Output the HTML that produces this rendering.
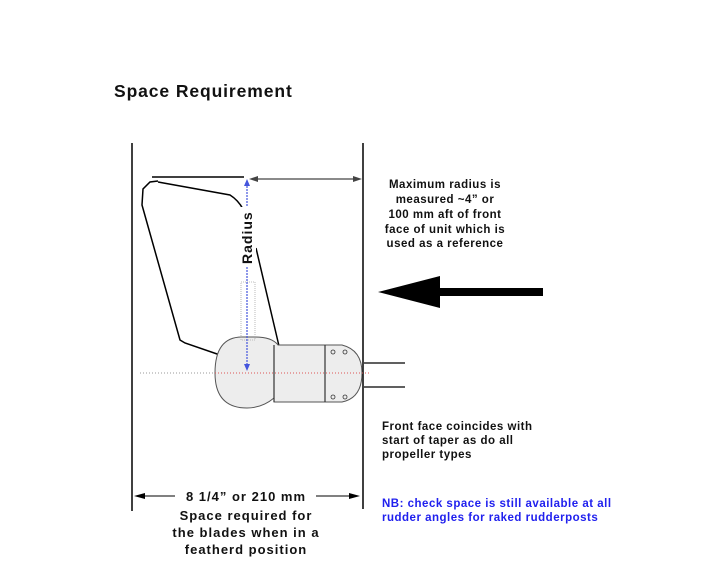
<!DOCTYPE html>
<html><head><meta charset="utf-8"><style>
body{margin:0;background:#fff;width:709px;height:567px;overflow:hidden}
text{font-family:"Liberation Sans",sans-serif;font-weight:bold;fill:#111}
</style></head><body>
<svg width="709" height="567" viewBox="0 0 709 567" xmlns="http://www.w3.org/2000/svg">
<text x="114" y="97" font-size="17.5" letter-spacing="0.9">Space Requirement</text>
<!-- boundary lines -->
<line x1="132" y1="143" x2="132" y2="511" stroke="#000" stroke-width="1.5"/>
<line x1="363" y1="143" x2="363" y2="509" stroke="#000" stroke-width="1.5"/>
<!-- blade -->
<line x1="152" y1="177" x2="244" y2="177" stroke="#000" stroke-width="1.5"/>
<path d="M158,181 L150,182 L143,189 L142,205 L180,340 L185,343 L220,355" fill="none" stroke="#000" stroke-width="1.5"/>
<path d="M158,182 L230,195 Q238,200 243,209" fill="none" stroke="#000" stroke-width="1.5"/>
<line x1="256" y1="248" x2="279" y2="346" stroke="#000" stroke-width="1.5"/>
<!-- hub -->
<path d="M255,337 Q272,337 278,345 L325,345 L342,345 Q362,350 362,373 Q362,398 342,402 L274,402 L274,398 Q262,408 247,408 Q215,408 215,373 Q215,337 242,337 Z" fill="#ededed" stroke="#555" stroke-width="1"/>
<line x1="274" y1="345" x2="274" y2="402" stroke="#333" stroke-width="1.2"/>
<line x1="325" y1="345" x2="325" y2="402" stroke="#333" stroke-width="1.2"/>
<g fill="none" stroke="#333" stroke-width="0.8">
<circle cx="333" cy="352" r="2"/><circle cx="345" cy="352" r="2"/>
<circle cx="333" cy="397" r="2"/><circle cx="345" cy="397" r="2"/>
</g>
<line x1="364" y1="363" x2="405" y2="363" stroke="#000" stroke-width="1.2"/>
<line x1="364" y1="387" x2="405" y2="387" stroke="#000" stroke-width="1.2"/>
<rect x="241" y="282" width="14" height="58" fill="none" stroke="#aaa" stroke-width="0.8" stroke-dasharray="1,1"/>
<line x1="140" y1="373" x2="215" y2="373" stroke="#999" stroke-width="1" stroke-dasharray="1,2"/>
<line x1="215" y1="373" x2="370" y2="373" stroke="#d55" stroke-width="1" stroke-dasharray="1,2"/>
<!-- radius -->
<line x1="247" y1="183" x2="247" y2="368" stroke="#4455dd" stroke-width="1.2" stroke-dasharray="2,1"/>
<path d="M244,186 L247,179 L250,186 Z" fill="#4455dd"/>
<path d="M244,364 L247,371 L250,364 Z" fill="#4455dd"/>
<rect x="238" y="207" width="18" height="60" fill="#fff"/>
<text transform="translate(252,264) rotate(-90)" font-size="14" letter-spacing="1">Radius</text>
<!-- top dimension -->
<line x1="252" y1="179" x2="358" y2="179" stroke="#444" stroke-width="1.2"/>
<path d="M249,179 L258,176 L258,182 Z" fill="#444"/>
<path d="M362,179 L353,176 L353,182 Z" fill="#444"/>
<!-- big arrow -->
<path d="M378,292 L440,276 L440,288 L543,288 L543,296 L440,296 L440,308 Z" fill="#000"/>
<!-- bottom dimension -->
<line x1="137" y1="496" x2="175" y2="496" stroke="#000" stroke-width="1"/>
<path d="M134,496 L145,493 L145,499 Z" fill="#000"/>
<line x1="316" y1="496" x2="356" y2="496" stroke="#000" stroke-width="1"/>
<path d="M360,496 L349,493 L349,499 Z" fill="#000"/>
<g font-size="13" text-anchor="middle" letter-spacing="1">
<text x="246" y="501">8 1/4” or 210 mm</text>
<text x="246" y="520">Space required for</text>
<text x="246" y="537">the blades when in a</text>
<text x="246" y="554">featherd position</text>
</g>
<g font-size="11.5" text-anchor="middle" letter-spacing="0.5">
<text x="445" y="188">Maximum radius is</text>
<text x="445" y="203">measured ~4” or</text>
<text x="445" y="218">100 mm aft of front</text>
<text x="445" y="233">face of unit which is</text>
<text x="445" y="247">used as a reference</text>
</g>
<g font-size="11.5" letter-spacing="0.5">
<text x="382" y="430">Front face coincides with</text>
<text x="382" y="444">start of taper as do all</text>
<text x="382" y="458">propeller types</text>
<text x="382" y="507" style="fill:#2020ee">NB: check space is still available at all</text>
<text x="382" y="521" style="fill:#2020ee">rudder angles for raked rudderposts</text>
</g>
</svg>
</body></html>
